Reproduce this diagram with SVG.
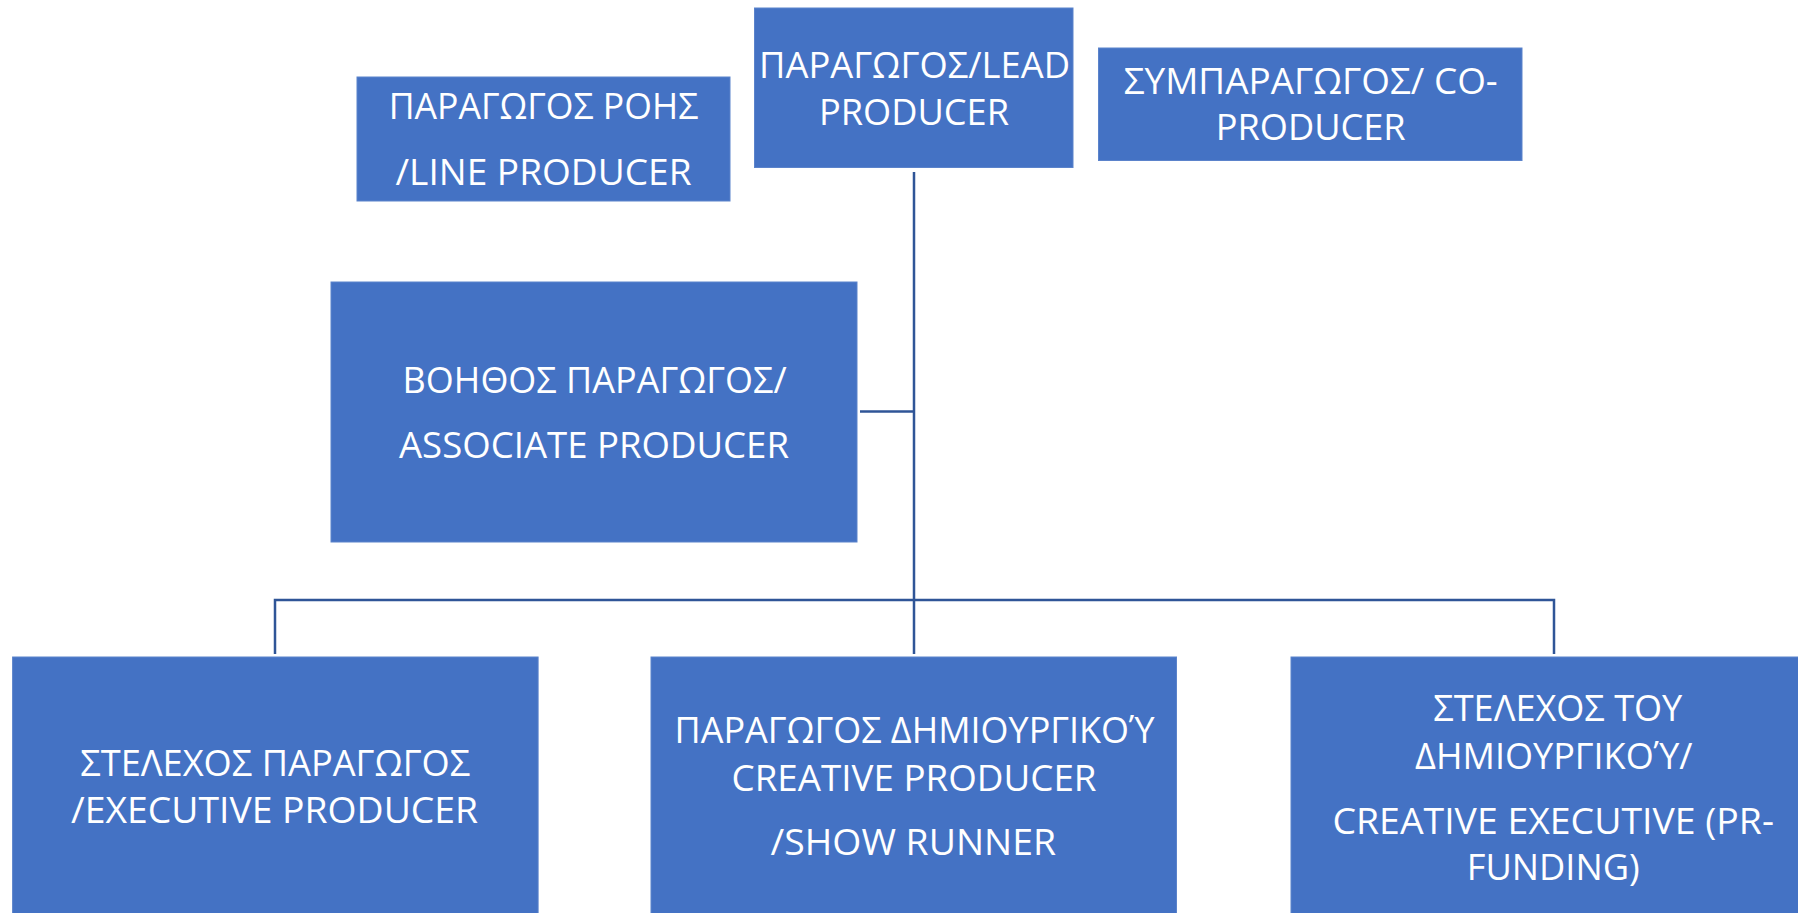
<svg xmlns="http://www.w3.org/2000/svg" width="1798" height="913" viewBox="0 0 1798 913">
<style>
.box{fill:#4472C4;stroke:#5B83CB;stroke-width:1}
.t{fill:#FFFFFF;font-family:"Open Sans","Liberation Sans",sans-serif;font-size:37px;text-anchor:middle}
.c{fill:none;stroke:#2F5597;stroke-width:2.5}
</style>
<rect width="1798" height="913" fill="#FFFFFF"/>
<g id="connectors">
<path class="c" d="M914 172 V654"/>
<path class="c" d="M860 411.5 H914"/>
<path class="c" d="M275 654 V600 H1554 V654"/>
</g>
<g id="line-producer">
<rect class="box" x="357" y="77" width="373" height="124"/>
<text class="t" x="543.5" y="119" textLength="309.6" lengthAdjust="spacingAndGlyphs">ΠΑΡΑΓΩΓΟΣ ΡΟΗΣ</text>
<text class="t" x="543.5" y="184.5" textLength="296" lengthAdjust="spacingAndGlyphs">/LINE PRODUCER</text>
</g>
<g id="lead-producer">
<rect class="box" x="754.5" y="8" width="318.5" height="159.5"/>
<text class="t" x="914.5" y="78" textLength="311" lengthAdjust="spacingAndGlyphs">ΠΑΡΑΓΩΓΟΣ/LEAD</text>
<text class="t" x="914" y="125" textLength="190" lengthAdjust="spacingAndGlyphs">PRODUCER</text>
</g>
<g id="co-producer">
<rect class="box" x="1098.5" y="48" width="423.5" height="112.5"/>
<text class="t" x="1310.7" y="94" textLength="374" lengthAdjust="spacingAndGlyphs">ΣΥΜΠΑΡΑΓΩΓΟΣ/ CO-</text>
<text class="t" x="1310.7" y="140" textLength="190" lengthAdjust="spacingAndGlyphs">PRODUCER</text>
</g>
<g id="associate-producer">
<rect class="box" x="331" y="282" width="526" height="260"/>
<text class="t" x="594.6" y="393" textLength="384" lengthAdjust="spacingAndGlyphs">ΒΟΗΘΟΣ ΠΑΡΑΓΩΓΟΣ/</text>
<text class="t" x="594" y="457.5" textLength="390" lengthAdjust="spacingAndGlyphs">ASSOCIATE PRODUCER</text>
</g>
<g id="executive-producer">
<rect class="box" x="12.6" y="657" width="525.5" height="270"/>
<text class="t" x="275.2" y="776" textLength="390" lengthAdjust="spacingAndGlyphs">ΣΤΕΛΕΧΟΣ ΠΑΡΑΓΩΓΟΣ</text>
<text class="t" x="274.6" y="823" textLength="407" lengthAdjust="spacingAndGlyphs">/EXECUTIVE PRODUCER</text>
</g>
<g id="creative-producer">
<rect class="box" x="651" y="657" width="525.5" height="270"/>
<text class="t" x="914.5" y="743" textLength="480" lengthAdjust="spacingAndGlyphs">ΠΑΡΑΓΩΓΟΣ ΔΗΜΙΟΥΡΓΙΚΟΎ</text>
<text class="t" x="914" y="791" textLength="365" lengthAdjust="spacingAndGlyphs">CREATIVE PRODUCER</text>
<text class="t" x="913.3" y="855" textLength="285.5" lengthAdjust="spacingAndGlyphs">/SHOW RUNNER</text>
</g>
<g id="creative-executive">
<rect class="box" x="1291" y="657" width="530" height="270"/>
<text class="t"><tspan x="1557.8" y="721" textLength="249" lengthAdjust="spacingAndGlyphs">ΣΤΕΛΕΧΟΣ ΤΟΥ</tspan><tspan x="1553.8" y="769" textLength="277.5" lengthAdjust="spacingAndGlyphs">ΔΗΜΙΟΥΡΓΙΚΟΎ/</tspan></text>
<text class="t" x="1553.2" y="833.6" textLength="441.5" lengthAdjust="spacingAndGlyphs">CREATIVE EXECUTIVE (PR-</text>
<text class="t" x="1553.2" y="879.5" textLength="173" lengthAdjust="spacingAndGlyphs">FUNDING)</text>
</g>
</svg>
